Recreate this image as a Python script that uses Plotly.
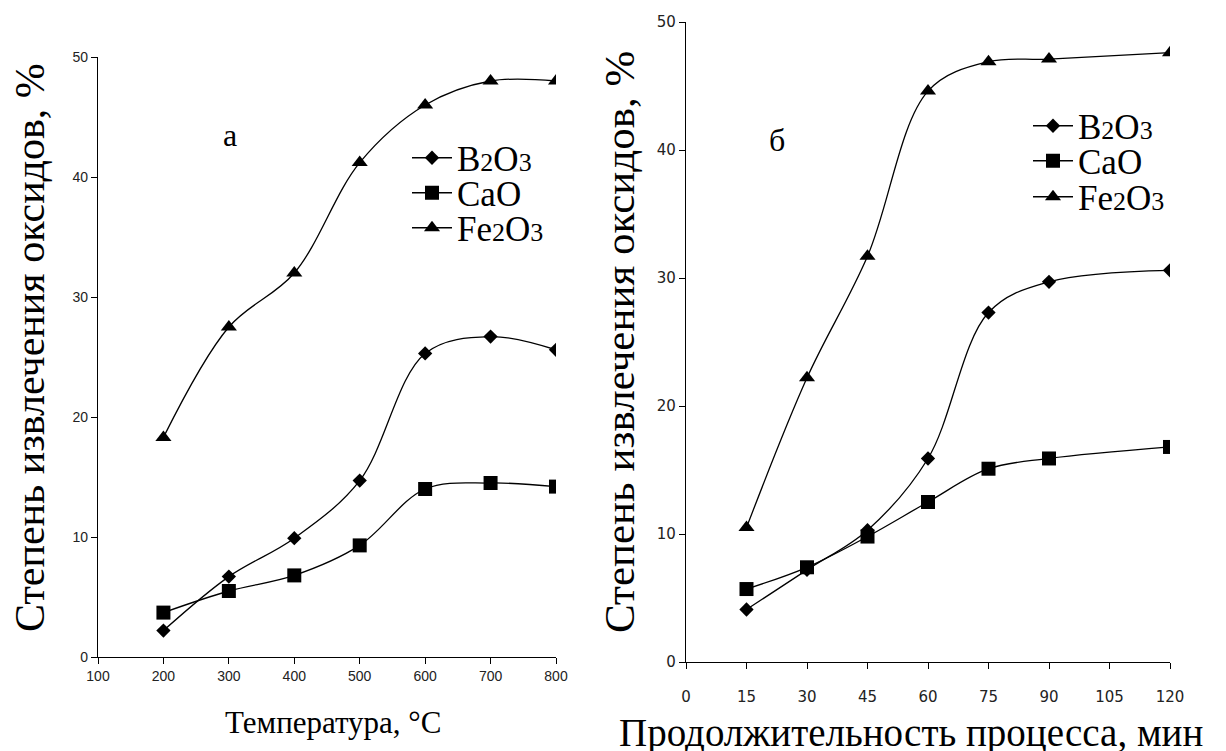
import plotly.graph_objects as go

# ---- data: panel (а) temperature ----
temp_c = [200, 300, 400, 500, 600, 700, 800]
a_b2o3 = [2.2, 6.7, 9.9, 14.7, 25.3, 26.7, 25.6]
a_cao = [3.7, 5.5, 6.8, 9.3, 14.0, 14.5, 14.2]
a_fe2o3 = [18.3, 27.5, 32.0, 41.2, 46.0, 48.0, 48.0]

# ---- data: panel (б) duration ----
time_min = [15, 30, 45, 60, 75, 90, 120]
b_b2o3 = [4.1, 7.2, 10.3, 15.9, 27.3, 29.7, 30.6]
b_cao = [5.7, 7.4, 9.8, 12.5, 15.1, 15.9, 16.8]
b_fe2o3 = [10.5, 22.2, 31.7, 44.6, 46.9, 47.1, 47.6]

x_ticks_a = [100, 200, 300, 400, 500, 600, 700, 800]
x_ticks_b = [0, 15, 30, 45, 60, 75, 90, 105, 120]
y_ticks = [0, 10, 20, 30, 40, 50]

SUB = "<span style='font-size:26px'>{}</span>"
names = ["B" + SUB.format("2") + "O" + SUB.format("3"), "CaO",
         "Fe" + SUB.format("2") + "O" + SUB.format("3")]
symbols = ["diamond", "square", "triangle-up"]
msizes = [11, 14, 14]

SERIF = "Liberation Serif, Times New Roman, serif"
W, H = 1226, 751
OFF = 8  # page body margin


def fx(px):
    return (px - OFF) / W


def fy(py):
    return 1 - (py - OFF) / H


fig = go.Figure()

legend_ids_a = ["legend", "legend2", "legend3"]
legend_ids_b = ["legend4", "legend5", "legend6"]

for series, nm, sym, ms, lg in zip([a_b2o3, a_cao, a_fe2o3], names, symbols, msizes, legend_ids_a):
    fig.add_trace(go.Scatter(
        x=temp_c, y=series, name=nm, mode="lines+markers",
        line=dict(color="black", width=1.3, shape="spline", smoothing=1.0),
        marker=dict(symbol=sym, size=ms, color="black"),
        xaxis="x", yaxis="y", legend=lg))

for series, nm, sym, ms, lg in zip([b_b2o3, b_cao, b_fe2o3], names, symbols, msizes, legend_ids_b):
    fig.add_trace(go.Scatter(
        x=time_min, y=series, name=nm, mode="lines+markers",
        line=dict(color="black", width=1.3, shape="spline", smoothing=1.0),
        marker=dict(symbol=sym, size=ms, color="black"),
        xaxis="x2", yaxis="y2", legend=lg))

axis_common = dict(showline=True, linecolor="black", linewidth=1.3,
                   ticks="outside", tickcolor="black", ticklen=6, tickwidth=1.3,
                   showgrid=False, zeroline=False, mirror=False, automargin=False)


def legend_box(xpx, ypx):
    return dict(x=fx(xpx), y=fy(ypx), xanchor="left", yanchor="middle",
                bgcolor="rgba(0,0,0,0)", borderwidth=0,
                font=dict(family=SERIF, size=35, color="black"),
                itemwidth=40)


layout_legends = {}
for lg, ypx in zip(legend_ids_a, [158, 193, 228]):
    layout_legends[lg] = legend_box(407, ypx)
for lg, ypx in zip(legend_ids_b, [126, 161, 197]):
    layout_legends[lg] = legend_box(1028, ypx)

fig.update_layout(
    width=W, height=H,
    paper_bgcolor="white", plot_bgcolor="white",
    margin=dict(l=0, r=0, t=0, b=0, autoexpand=False),
    xaxis=dict(domain=[fx(98), fx(556)], range=[100, 800], tickvals=x_ticks_a,
               tickfont=dict(family="Liberation Sans, Arial", size=14, color="#222"),
               anchor="y", **axis_common),
    yaxis=dict(domain=[fy(657), fy(57)], range=[0, 50], tickvals=y_ticks,
               tickfont=dict(family="Liberation Sans, Arial", size=14, color="#222"),
               anchor="x", **axis_common),
    xaxis2=dict(domain=[fx(686), fx(1170)], range=[0, 120], tickvals=x_ticks_b,
                tickfont=dict(family="DejaVu Sans, Verdana", size=15, color="#222"),
                ticklabelstandoff=15,
                anchor="y2", **axis_common),
    yaxis2=dict(domain=[fy(662), fy(22)], range=[0, 50], tickvals=y_ticks,
                tickfont=dict(family="DejaVu Sans, Verdana", size=15, color="#222"),
                anchor="x2", **axis_common),
    showlegend=True,
    **layout_legends,
)

annots = [
    dict(text="а", x=230, y=135, size=32, angle=0),
    dict(text="б", x=777, y=140, size=32, angle=0),
    dict(text="Степень извлечения оксидов, %", x=30, y=348, size=42, angle=-90),
    dict(text="Степень извлечения оксидов, %", x=620, y=342, size=43, angle=-90),
    dict(text="Температура, °C", x=333, y=722, size=31, angle=0),
    dict(text="Продолжительность процесса, мин", x=911, y=733, size=39, angle=0),
]
for a in annots:
    fig.add_annotation(text=a["text"], x=fx(a["x"]), y=fy(a["y"]), xref="paper", yref="paper",
                       xanchor="center", yanchor="middle", showarrow=False,
                       textangle=a["angle"],
                       font=dict(family=SERIF, size=a["size"], color="black"))

fig.write_html("out.html")
